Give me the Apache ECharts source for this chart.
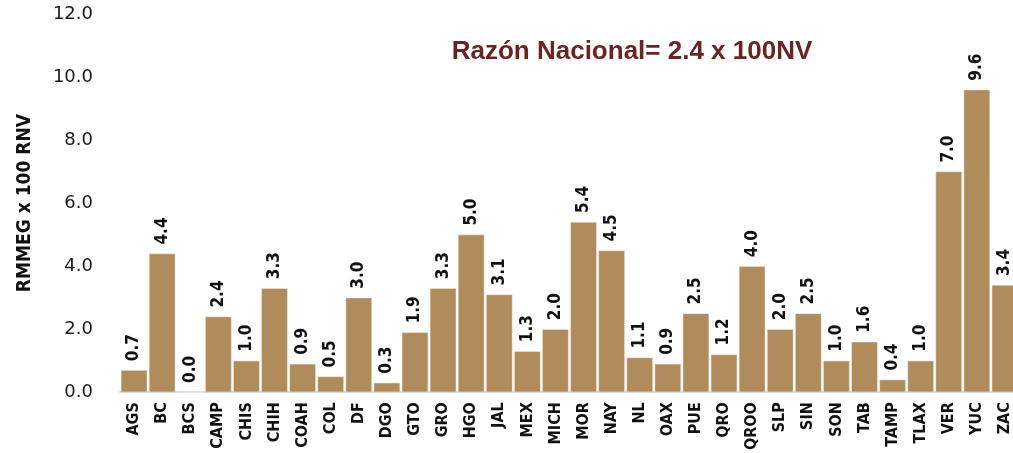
<!DOCTYPE html>
<html>
<head>
<meta charset="utf-8">
<script src="https://cdn.jsdelivr.net/npm/echarts@6/dist/echarts.min.js"></script>
<style>html,body{margin:0;padding:0;background:#fff;overflow:hidden;width:1013px;height:453px}#c{width:1030px;height:453px}</style>
</head>
<body>
<div id="c"></div>
<script>
const categories = ['AGS','BC','BCS','CAMP','CHIS','CHIH','COAH','COL','DF','DGO','GTO','GRO','HGO','JAL','MEX','MICH','MOR','NAY','NL','OAX','PUE','QRO','QROO','SLP','SIN','SON','TAB','TAMP','TLAX','VER','YUC','ZAC'];
const values = [0.7,4.4,0.0,2.4,1.0,3.3,0.9,0.5,3.0,0.3,1.9,3.3,5.0,3.1,1.3,2.0,5.4,4.5,1.1,0.9,2.5,1.2,4.0,2.0,2.5,1.0,1.6,0.4,1.0,7.0,9.6,3.4];
const titleText = 'Razón Nacional= 2.4 x 100NV';
const yAxisName = 'RMMEG x 100 RNV';

const chart = echarts.init(document.getElementById('c'), null, {renderer:'canvas'});
chart.setOption({
  animation: false,
  backgroundColor: '#fff',
  title: {
    text: titleText,
    left: 627, top: 34, textAlign: 'center',
    textStyle: {color:'#6B2424', fontFamily:'Liberation Sans, Arial', fontWeight:'bold', fontSize:26}
  },
  grid: {left:120, top:14, width:899, bottom:59.5, containLabel:false},
  xAxis: {
    type:'category', data: categories,
    axisLine:{show:true, lineStyle:{color:'#d9d9d9', width:2}},
    axisTick:{show:false},
    axisLabel:{rotate:90, interval:0, margin:10, color:'#111', fontWeight:'bold', fontSize:16, fontFamily:'DejaVu Sans Condensed, sans-serif'}
  },
  yAxis: {
    type:'value', min:0, max:12, interval:2,
    name: yAxisName, nameLocation:'middle', nameGap:85, nameRotate:90,
    nameTextStyle:{color:'#111', fontWeight:'bold', fontSize:19, fontFamily:'DejaVu Sans Condensed, sans-serif'},
    axisLine:{show:false}, axisTick:{show:false}, splitLine:{show:false},
    axisLabel:{margin:27, color:'#1a1a1a', fontSize:18, fontFamily:'DejaVu Sans, sans-serif', formatter: v => v.toFixed(1)}
  },
  series: [{
    type:'bar', data: values, barCategoryGap:'6%',
    itemStyle:{color:'#B08C5C', borderColor:'#f2ece4', borderWidth:0.5},
    label:{show:true, position:'top', rotate:90, align:'left', verticalAlign:'middle', distance:9,
      color:'#111', fontWeight:'bold', fontSize:17, fontFamily:'DejaVu Sans Condensed, sans-serif',
      formatter: p => p.value.toFixed(1)}
  }]
});
</script>
</body>
</html>
